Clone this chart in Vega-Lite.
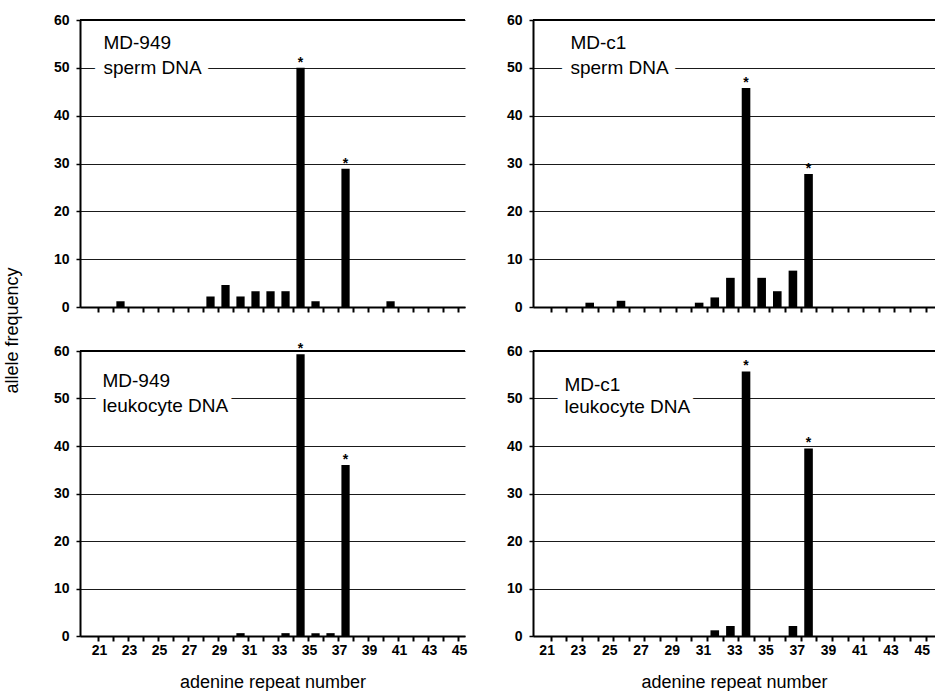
{
  "$schema": "https://vega.github.io/schema/vega-lite/v6.json",
  "padding": {"left": 3, "top": 13, "right": 0, "bottom": 0},
  "background": "white",
  "config": {
    "view": {"stroke": null},
    "font": "Liberation Sans",
    "axis": {
      "domainColor": "black", "domainWidth": 2,
      "tickColor": "black", "labelColor": "black", "titleColor": "black",
      "labelFont": "Liberation Sans", "titleFont": "Liberation Sans"
    }
  },
  "datasets": {
    "alleles": [
      {"panel": "A", "repeat": 23, "freq": 1.2, "peak": false},
      {"panel": "A", "repeat": 29, "freq": 2.2, "peak": false},
      {"panel": "A", "repeat": 30, "freq": 4.6, "peak": false},
      {"panel": "A", "repeat": 31, "freq": 2.2, "peak": false},
      {"panel": "A", "repeat": 32, "freq": 3.3, "peak": false},
      {"panel": "A", "repeat": 33, "freq": 3.3, "peak": false},
      {"panel": "A", "repeat": 34, "freq": 3.3, "peak": false},
      {"panel": "A", "repeat": 35, "freq": 50.0, "peak": true},
      {"panel": "A", "repeat": 36, "freq": 1.2, "peak": false},
      {"panel": "A", "repeat": 38, "freq": 28.9, "peak": true},
      {"panel": "A", "repeat": 41, "freq": 1.2, "peak": false},
      {"panel": "B", "repeat": 24, "freq": 0.9, "peak": false},
      {"panel": "B", "repeat": 26, "freq": 1.3, "peak": false},
      {"panel": "B", "repeat": 31, "freq": 0.9, "peak": false},
      {"panel": "B", "repeat": 32, "freq": 2.0, "peak": false},
      {"panel": "B", "repeat": 33, "freq": 6.1, "peak": false},
      {"panel": "B", "repeat": 34, "freq": 45.8, "peak": true},
      {"panel": "B", "repeat": 35, "freq": 6.1, "peak": false},
      {"panel": "B", "repeat": 36, "freq": 3.3, "peak": false},
      {"panel": "B", "repeat": 37, "freq": 7.6, "peak": false},
      {"panel": "B", "repeat": 38, "freq": 27.8, "peak": true},
      {"panel": "C", "repeat": 31, "freq": 0.6, "peak": false},
      {"panel": "C", "repeat": 34, "freq": 0.6, "peak": false},
      {"panel": "C", "repeat": 35, "freq": 59.3, "peak": true},
      {"panel": "C", "repeat": 36, "freq": 0.6, "peak": false},
      {"panel": "C", "repeat": 37, "freq": 0.6, "peak": false},
      {"panel": "C", "repeat": 38, "freq": 36.0, "peak": true},
      {"panel": "D", "repeat": 32, "freq": 1.2, "peak": false},
      {"panel": "D", "repeat": 33, "freq": 2.1, "peak": false},
      {"panel": "D", "repeat": 34, "freq": 55.7, "peak": true},
      {"panel": "D", "repeat": 37, "freq": 2.1, "peak": false},
      {"panel": "D", "repeat": 38, "freq": 39.5, "peak": true}
    ]
  },
  "columns": 2,
  "bounds": "flush",
  "spacing": {"row": 44, "column": 68},
  "concat": [
    {
      "width": 385, "height": 287,
      "data": {"name": "alleles"},
      "transform": [{"filter": "datum.panel == 'A'"}],
      "layer": [
        {
          "mark": {"type": "bar", "color": "black", "width": {"band": 0.55}},
          "encoding": {
            "x": {"field": "repeat", "type": "ordinal",
              "scale": {"domain": [21,22,23,24,25,26,27,28,29,30,31,32,33,34,35,36,37,38,39,40,41,42,43,44,45], "paddingInner": 0, "paddingOuter": 0.33, "align": 0.3},
              "axis": {"labels": false, "title": null, "tickOffset": 7.5, "tickSize": 5, "tickWidth": 2}},
            "y": {"field": "freq", "type": "quantitative",
              "scale": {"domain": [0, 60], "nice": false},
              "axis": {"values": [0,10,20,30,40,50,60], "grid": true, "gridColor": "#1a1a1a", "gridWidth": 1, "gridOpacity": 1,
                "tickSize": 4, "tickWidth": 1.5, "labelFontSize": 14, "labelFontWeight": "bold", "labelPadding": 7,
                "title": "allele frequency", "titleFontSize": 18, "titleFontWeight": "normal",
                "titleX": -68, "titleY": 310, "titleAlign": "center", "titleBaseline": "middle"}}
          }
        },
        {
          "transform": [{"filter": "datum.peak"}],
          "mark": {"type": "text", "text": "*", "fontSize": 14, "fontWeight": "bold", "baseline": "bottom", "dy": 2, "color": "black"},
          "encoding": {"x": {"field": "repeat", "type": "ordinal"}, "y": {"field": "freq", "type": "quantitative"}}
        },
        {
          "data": {"values": [{"t": "top"}]},
          "mark": {"type": "rule", "color": "black", "strokeWidth": 2},
          "encoding": {"y": {"datum": 60, "type": "quantitative"}}
        },
        {
          "data": {"values": [{"label": "MD-949\nsperm DNA"}]},
          "mark": {"type": "text", "align": "left", "baseline": "alphabetic", "fontSize": 19, "lineBreak": "\n", "lineHeight": 25, "fill": "white", "stroke": "white", "strokeWidth": 16, "dx": -2},
          "encoding": {"text": {"field": "label"}, "x": {"datum": 22, "type": "ordinal"}, "y": {"datum": 53.9, "type": "quantitative"}}
        },
        {
          "data": {"values": [{"label": "MD-949\nsperm DNA"}]},
          "mark": {"type": "text", "align": "left", "baseline": "alphabetic", "fontSize": 19, "lineBreak": "\n", "lineHeight": 25, "color": "black", "dx": -2},
          "encoding": {"text": {"field": "label"}, "x": {"datum": 22, "type": "ordinal"}, "y": {"datum": 53.9, "type": "quantitative"}}
        }
      ]
    },
    {
      "width": 402, "height": 287,
      "data": {"name": "alleles"},
      "transform": [{"filter": "datum.panel == 'B'"}],
      "layer": [
        {
          "mark": {"type": "bar", "color": "black", "width": {"band": 0.55}},
          "encoding": {
            "x": {"field": "repeat", "type": "ordinal",
              "scale": {"domain": [21,22,23,24,25,26,27,28,29,30,31,32,33,34,35,36,37,38,39,40,41,42,43,44,45], "paddingInner": 0, "paddingOuter": 0.36, "align": 0.18},
              "axis": {"labels": false, "title": null, "tickOffset": 7.8, "tickSize": 5, "tickWidth": 2}},
            "y": {"field": "freq", "type": "quantitative",
              "scale": {"domain": [0, 60], "nice": false},
              "axis": {"values": [0,10,20,30,40,50,60], "grid": true, "gridColor": "#1a1a1a", "gridWidth": 1, "gridOpacity": 1,
                "tickSize": 4, "tickWidth": 1.5, "labelFontSize": 14, "labelFontWeight": "bold", "labelPadding": 7, "title": null}}
          }
        },
        {
          "transform": [{"filter": "datum.peak"}],
          "mark": {"type": "text", "text": "*", "fontSize": 14, "fontWeight": "bold", "baseline": "bottom", "dy": 2, "color": "black"},
          "encoding": {"x": {"field": "repeat", "type": "ordinal"}, "y": {"field": "freq", "type": "quantitative"}}
        },
        {
          "data": {"values": [{"t": "top"}]},
          "mark": {"type": "rule", "color": "black", "strokeWidth": 2},
          "encoding": {"y": {"datum": 60, "type": "quantitative"}}
        },
        {
          "data": {"values": [{"label": "MD-c1\nsperm DNA"}]},
          "mark": {"type": "text", "align": "left", "baseline": "alphabetic", "fontSize": 19, "lineBreak": "\n", "lineHeight": 25, "fill": "white", "stroke": "white", "strokeWidth": 16, "dx": 12},
          "encoding": {"text": {"field": "label"}, "x": {"datum": 22, "type": "ordinal"}, "y": {"datum": 53.9, "type": "quantitative"}}
        },
        {
          "data": {"values": [{"label": "MD-c1\nsperm DNA"}]},
          "mark": {"type": "text", "align": "left", "baseline": "alphabetic", "fontSize": 19, "lineBreak": "\n", "lineHeight": 25, "color": "black", "dx": 12},
          "encoding": {"text": {"field": "label"}, "x": {"datum": 22, "type": "ordinal"}, "y": {"datum": 53.9, "type": "quantitative"}}
        }
      ]
    },
    {
      "width": 385, "height": 285,
      "data": {"name": "alleles"},
      "transform": [{"filter": "datum.panel == 'C'"}],
      "layer": [
        {
          "mark": {"type": "bar", "color": "black", "width": {"band": 0.55}},
          "encoding": {
            "x": {"field": "repeat", "type": "ordinal",
              "scale": {"domain": [21,22,23,24,25,26,27,28,29,30,31,32,33,34,35,36,37,38,39,40,41,42,43,44,45], "paddingInner": 0, "paddingOuter": 0.33, "align": 0.3},
              "axis": {"labelExpr": "datum.value % 2 == 1 ? datum.label : ''", "labelAngle": 0, "labelFontSize": 14, "labelFontWeight": "bold", "labelPadding": 2, "labelOffset": 1,
                "tickOffset": 7.5, "tickSize": 5, "tickWidth": 2,
                "title": "adenine repeat number", "titleFontSize": 18, "titleFontWeight": "normal", "titlePadding": 16}},
            "y": {"field": "freq", "type": "quantitative",
              "scale": {"domain": [0, 60], "nice": false},
              "axis": {"values": [0,10,20,30,40,50,60], "grid": true, "gridColor": "#1a1a1a", "gridWidth": 1, "gridOpacity": 1,
                "tickSize": 4, "tickWidth": 1.5, "labelFontSize": 14, "labelFontWeight": "bold", "labelPadding": 7, "title": null}}
          }
        },
        {
          "transform": [{"filter": "datum.peak"}],
          "mark": {"type": "text", "text": "*", "fontSize": 14, "fontWeight": "bold", "baseline": "bottom", "dy": 2, "color": "black"},
          "encoding": {"x": {"field": "repeat", "type": "ordinal"}, "y": {"field": "freq", "type": "quantitative"}}
        },
        {
          "data": {"values": [{"t": "top"}]},
          "mark": {"type": "rule", "color": "black", "strokeWidth": 2},
          "encoding": {"y": {"datum": 60, "type": "quantitative"}}
        },
        {
          "data": {"values": [{"label": "MD-949\nleukocyte DNA"}]},
          "mark": {"type": "text", "align": "left", "baseline": "alphabetic", "fontSize": 19, "lineBreak": "\n", "lineHeight": 25, "fill": "white", "stroke": "white", "strokeWidth": 16, "dx": -3},
          "encoding": {"text": {"field": "label"}, "x": {"datum": 22, "type": "ordinal"}, "y": {"datum": 52.4, "type": "quantitative"}}
        },
        {
          "data": {"values": [{"label": "MD-949\nleukocyte DNA"}]},
          "mark": {"type": "text", "align": "left", "baseline": "alphabetic", "fontSize": 19, "lineBreak": "\n", "lineHeight": 25, "color": "black", "dx": -3},
          "encoding": {"text": {"field": "label"}, "x": {"datum": 22, "type": "ordinal"}, "y": {"datum": 52.4, "type": "quantitative"}}
        }
      ]
    },
    {
      "width": 402, "height": 285,
      "data": {"name": "alleles"},
      "transform": [{"filter": "datum.panel == 'D'"}],
      "layer": [
        {
          "mark": {"type": "bar", "color": "black", "width": {"band": 0.55}},
          "encoding": {
            "x": {"field": "repeat", "type": "ordinal",
              "scale": {"domain": [21,22,23,24,25,26,27,28,29,30,31,32,33,34,35,36,37,38,39,40,41,42,43,44,45], "paddingInner": 0, "paddingOuter": 0.36, "align": 0.18},
              "axis": {"labelExpr": "datum.value % 2 == 1 ? datum.label : ''", "labelAngle": 0, "labelFontSize": 14, "labelFontWeight": "bold", "labelPadding": 2, "labelOffset": -4,
                "tickOffset": 7.8, "tickSize": 5, "tickWidth": 2,
                "title": "adenine repeat number", "titleFontSize": 18, "titleFontWeight": "normal", "titlePadding": 16}},
            "y": {"field": "freq", "type": "quantitative",
              "scale": {"domain": [0, 60], "nice": false},
              "axis": {"values": [0,10,20,30,40,50,60], "grid": true, "gridColor": "#1a1a1a", "gridWidth": 1, "gridOpacity": 1,
                "tickSize": 4, "tickWidth": 1.5, "labelFontSize": 14, "labelFontWeight": "bold", "labelPadding": 7, "title": null}}
          }
        },
        {
          "transform": [{"filter": "datum.peak"}],
          "mark": {"type": "text", "text": "*", "fontSize": 14, "fontWeight": "bold", "baseline": "bottom", "dy": 2, "color": "black"},
          "encoding": {"x": {"field": "repeat", "type": "ordinal"}, "y": {"field": "freq", "type": "quantitative"}}
        },
        {
          "data": {"values": [{"t": "top"}]},
          "mark": {"type": "rule", "color": "black", "strokeWidth": 2},
          "encoding": {"y": {"datum": 60, "type": "quantitative"}}
        },
        {
          "data": {"values": [{"label": "MD-c1\nleukocyte DNA"}]},
          "mark": {"type": "text", "align": "left", "baseline": "alphabetic", "fontSize": 19, "lineBreak": "\n", "lineHeight": 22, "fill": "white", "stroke": "white", "strokeWidth": 16, "dx": 6},
          "encoding": {"text": {"field": "label"}, "x": {"datum": 22, "type": "ordinal"}, "y": {"datum": 51.6, "type": "quantitative"}}
        },
        {
          "data": {"values": [{"label": "MD-c1\nleukocyte DNA"}]},
          "mark": {"type": "text", "align": "left", "baseline": "alphabetic", "fontSize": 19, "lineBreak": "\n", "lineHeight": 22, "color": "black", "dx": 6},
          "encoding": {"text": {"field": "label"}, "x": {"datum": 22, "type": "ordinal"}, "y": {"datum": 51.6, "type": "quantitative"}}
        }
      ]
    }
  ]
}
